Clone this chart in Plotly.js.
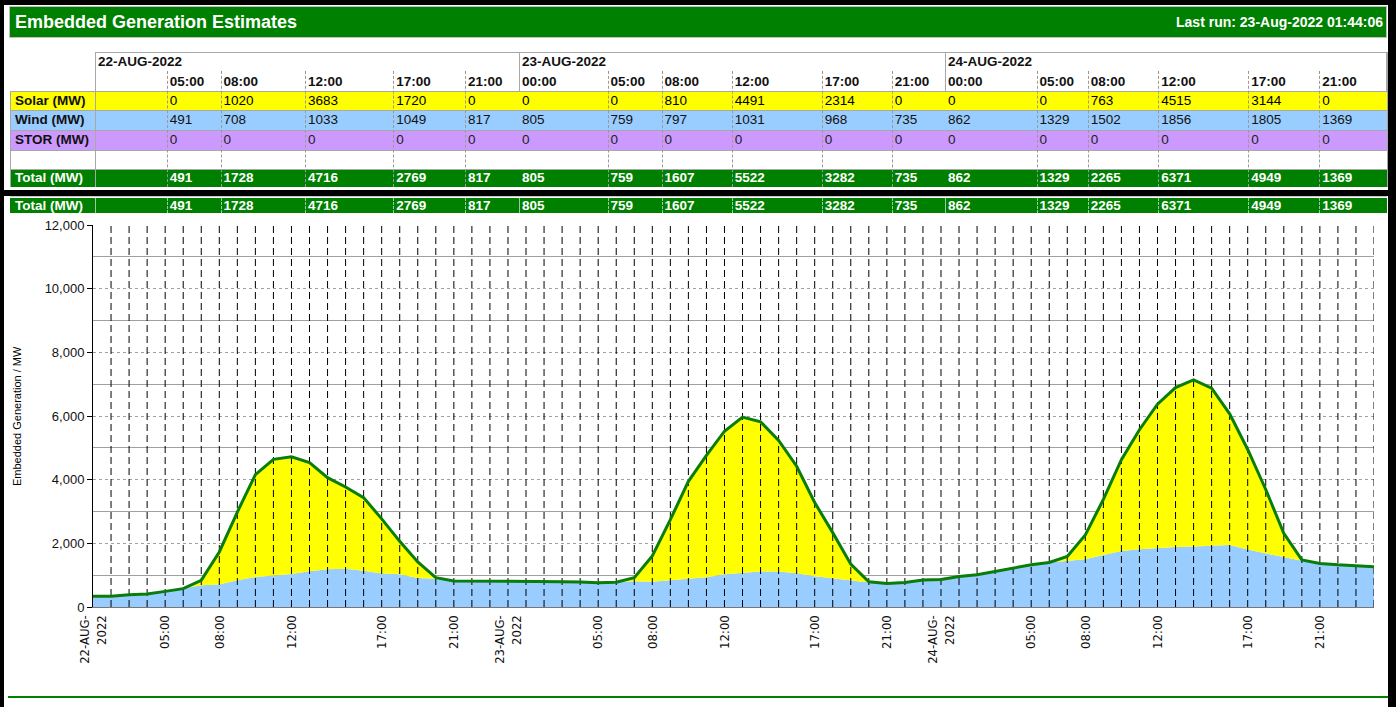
<!DOCTYPE html>
<html><head><meta charset="utf-8">
<script src="https://cdn.plot.ly/plotly-3.0.1.min.js"></script>
<style>
html,body{margin:0;padding:0;background:#000;width:1396px;height:707px;overflow:hidden;position:relative;font-family:"Liberation Sans",Arial,sans-serif;}
#chart{position:absolute;left:0;top:196px;width:1390px;height:501px;}
</style></head><body>
<div id="chart"></div>
<script>
// ---- data ----
const times = [
"22-AUG 01:00","22-AUG 02:00","22-AUG 03:00","22-AUG 04:00","22-AUG 05:00","22-AUG 06:00","22-AUG 07:00","22-AUG 08:00","22-AUG 09:00","22-AUG 10:00","22-AUG 11:00","22-AUG 12:00",
"22-AUG 13:00","22-AUG 14:00","22-AUG 15:00","22-AUG 16:00","22-AUG 17:00","22-AUG 18:00","22-AUG 19:00","22-AUG 20:00","22-AUG 21:00","22-AUG 22:00","22-AUG 23:00",
"23-AUG 00:00","23-AUG 01:00","23-AUG 02:00","23-AUG 03:00","23-AUG 04:00","23-AUG 05:00","23-AUG 06:00","23-AUG 07:00","23-AUG 08:00","23-AUG 09:00","23-AUG 10:00","23-AUG 11:00","23-AUG 12:00",
"23-AUG 13:00","23-AUG 14:00","23-AUG 15:00","23-AUG 16:00","23-AUG 17:00","23-AUG 18:00","23-AUG 19:00","23-AUG 20:00","23-AUG 21:00","23-AUG 22:00","23-AUG 23:00",
"24-AUG 00:00","24-AUG 01:00","24-AUG 02:00","24-AUG 03:00","24-AUG 04:00","24-AUG 05:00","24-AUG 06:00","24-AUG 07:00","24-AUG 08:00","24-AUG 09:00","24-AUG 10:00","24-AUG 11:00","24-AUG 12:00",
"24-AUG 13:00","24-AUG 14:00","24-AUG 15:00","24-AUG 16:00","24-AUG 17:00","24-AUG 18:00","24-AUG 19:00","24-AUG 20:00","24-AUG 21:00","24-AUG 22:00","24-AUG 23:00",
"25-AUG 00:00"];
const wind = [335,335,387,408,491,576,680,708,838,942,
995,1033,1120,1183,1204,1141,1049,1026,911,890,
817,817,817,805,805,800,795,785,759,780,
806,797,838,890,932,1031,1084,1116,1116,1064,
968,907,834,772,735,772,845,862,959,1011,
1116,1230,1329,1397,1449,1502,1637,1762,1814,1856,
1887,1898,1919,1950,1805,1679,1554,1449,1369,1324,
1293,1262];
const solar = [0,0,0,0,0,0,158,1020,2146,3215,
3644,3683,3414,2880,2566,2294,1720,1037,503,31,
0,0,0,0,0,0,0,0,0,0,
115,810,1905,3058,3832,4491,4881,4703,4119,3357,
2314,1429,511,20,0,0,0,0,0,0,
0,0,0,0,136,763,1741,2868,3754,4515,
5006,5234,4953,4119,3144,2012,761,32,0,0,
0,0];
const stor = [0,0,0,0,0,0,0,0,0,0,0,0,0,0,0,0,0,0,0,0,0,0,0,0,0,0,0,0,0,0,0,0,0,0,0,0,
0,0,0,0,0,0,0,0,0,0,0,0,0,0,0,0,0,0,0,0,0,0,0,0,0,0,0,0,0,0,0,0,0,0,0,0];
const tickIdx = [0,4,7,11,16,20,23,28,31,35,40,44,47,52,55,59,64,68];
const tickText = ["22-AUG-<br>2022","05:00","08:00","12:00","17:00","21:00","23-AUG-<br>2022","05:00","08:00","12:00","17:00","21:00","24-AUG-<br>2022","05:00","08:00","12:00","17:00","21:00"];
const dayLabels = ["22-AUG-2022","23-AUG-2022","24-AUG-2022"];
const tableIdx = [4,7,11,16,20,23,28,31,35,40,44,47,52,55,59,64,68];
const tableHours = ["05:00","08:00","12:00","17:00","21:00","00:00","05:00","08:00","12:00","17:00","21:00","00:00","05:00","08:00","12:00","17:00","21:00"];
const titleText = "Embedded Generation Estimates";
const lastRun = "Last run: 23-Aug-2022 01:44:06";
const yTitle = "Embedded Generation / MW";

// ---- layout helpers (positions only) ----
const B = document.body;
function el(css, text){const d=document.createElement('div');d.style.cssText='position:absolute;white-space:nowrap;box-sizing:border-box;'+css;if(text!==undefined)d.textContent=text;B.insertBefore(d, document.getElementById('chart'));return d;}
function elIn(p, css, text){const d=document.createElement('div');d.style.cssText='position:absolute;white-space:nowrap;box-sizing:border-box;'+css;if(text!==undefined)d.textContent=text;p.appendChild(d);return d;}

el('left:4px;top:5px;width:1384px;height:185px;background:#fff;');
el('left:4px;top:196px;width:1384px;height:511px;background:#fff;');
el('left:9px;top:6px;width:1378px;height:32px;background:#008000;border:1px solid #c0c0c0;');
el('left:15px;top:7px;height:30px;line-height:30px;font-size:18px;font-weight:bold;color:#fff;', titleText);
el('right:13px;top:7px;height:30px;line-height:30px;font-size:14px;font-weight:bold;color:#fff;', lastRun);

const dayEdges = [95,519,945];
const colEdges = [166.7,220.5,305,393.3,465,519,607.5,661.5,731.7,821.7,891.7,945,1036.5,1087.7,1158.3,1248.3,1319.3];
const tableRight = 1386.5;

// header box
el('left:95px;top:52px;width:'+(tableRight-95)+'px;height:135px;border:1px solid #a8a8a8;border-bottom:none;');
dayLabels.forEach((d,k)=>{
  el('left:'+(dayEdges[k]+3)+'px;top:53px;height:18px;line-height:18px;font-size:13.5px;font-weight:bold;color:#111;', d);
  if(k>0) el('left:'+dayEdges[k]+'px;top:52px;width:1px;height:135px;background:#a8a8a8;');
});
tableHours.forEach((h,k)=>{
  el('left:'+(colEdges[k]+3)+'px;top:72px;height:19px;line-height:19px;font-size:13.5px;font-weight:bold;color:#111;', h);
  if(colEdges[k]!==519 && colEdges[k]!==945) el('left:'+colEdges[k]+'px;top:71px;width:0;height:116px;border-left:1px dashed #999;z-index:3;');
});

const total = wind.map((w,i)=>w+solar[i]+stor[i]);
const rows = [
 {label:'Solar (MW)', top:91, h:19, bg:'#ffff00', color:'#000', vals:tableIdx.map(i=>solar[i])},
 {label:'Wind (MW)', top:110, h:20, bg:'#99ccff', color:'#111', vals:tableIdx.map(i=>wind[i])},
 {label:'STOR (MW)', top:130, h:20, bg:'#cc99ff', color:'#222', vals:tableIdx.map(i=>stor[i])},
 {label:'', top:150, h:19, bg:'#fff', color:'#000', vals:[]},
 {label:'Total (MW)', top:169, h:18, bg:'#008000', color:'#fff', bold:true, vals:tableIdx.map(i=>total[i])}
];
function drawRow(parent, r, top, h, offX){
  elIn(parent,'left:'+(10-offX)+'px;top:'+top+'px;width:'+(tableRight-10)+'px;height:'+h+'px;background:'+r.bg+';');
  elIn(parent,'left:'+(15-offX)+'px;top:'+top+'px;height:'+h+'px;line-height:'+h+'px;font-size:13.5px;font-weight:bold;color:'+(r.bold?'#fff':'#111')+';', r.label);
  r.vals.forEach((v,k)=>{
    elIn(parent,'left:'+(colEdges[k]+3-offX)+'px;top:'+top+'px;height:'+h+'px;line-height:'+h+'px;font-size:13.5px;'+(r.bold?'font-weight:bold;':'')+'color:'+r.color+';', String(v));
  });
}
rows.forEach(r=>{
  drawRow(B, r, r.top, r.h, 0);
  el('left:10px;top:'+r.top+'px;width:'+(tableRight-10)+'px;height:1px;background:#a8a8a8;z-index:2;');
});
el('left:10px;top:91px;width:1px;height:96px;background:#a8a8a8;z-index:2;');
el('left:95px;top:91px;width:1px;height:96px;background:#a8a8a8;z-index:2;');
el('left:'+tableRight+'px;top:52px;width:1px;height:135px;background:#a8a8a8;z-index:2;');
// repeated total row at top of chart frame
const band = el('left:10px;top:198px;width:'+(tableRight-10)+'px;height:15px;');
drawRow(band, rows[4], 0, 15, 10);
colEdges.forEach(c=>elIn(band,'left:'+(c-10)+'px;top:0;width:0;height:15px;border-left:1px '+((c===519||c===945)?'solid':'dashed')+' #9c9;'));
elIn(band,'left:85px;top:0;width:1px;height:15px;background:#9c9;');
el('left:10px;top:196px;width:'+(tableRight-10)+'px;height:1px;background:#c8c8c8;');
// bottom green rule
el('left:8px;top:696px;width:1380px;height:2px;background:#008000;');

// ---- chart ----
const gx=[], gy=[];
for(let i=1;i<times.length;i++){gx.push(times[i],times[i],null);gy.push(0,12000,null);}
const traces = [
 {x:times,y:wind,type:'scatter',mode:'lines',stackgroup:'eg',line:{width:0,color:'#99ccff'},fillcolor:'#99ccff',name:'Wind (MW)',hoverinfo:'skip'},
 {x:times,y:solar,type:'scatter',mode:'lines',stackgroup:'eg',line:{width:0,color:'#ffff00'},fillcolor:'#ffff00',name:'Solar (MW)',hoverinfo:'skip'},
 {x:times,y:stor,type:'scatter',mode:'lines',stackgroup:'eg',line:{width:0,color:'#cc99ff'},fillcolor:'#cc99ff',name:'STOR (MW)',hoverinfo:'skip'},
 {x:gx,y:gy,type:'scatter',mode:'lines',line:{color:'#000',width:1,dash:'7px,4px'},hoverinfo:'skip',showlegend:false},
 {x:times,y:total,type:'scatter',mode:'lines',line:{color:'#087d08',width:3},name:'Total (MW)',hoverinfo:'skip'}
];
const layout = {
 width:1390,height:501,
 margin:{l:93,r:16,t:29,b:90,pad:0},
 paper_bgcolor:'rgba(0,0,0,0)',plot_bgcolor:'#fff',
 showlegend:false,
 font:{family:'"Liberation Sans", Arial, sans-serif',size:13,color:'#111'},
 xaxis:{type:'category',categoryorder:'array',categoryarray:times,range:[0,times.length-1],
   tickmode:'array',tickvals:tickIdx.map(i=>times[i]),ticktext:tickText,tickangle:-90,
   tickfont:{family:'"Liberation Sans Narrow", "Arial Narrow", "DejaVu Sans Condensed", sans-serif',size:13,color:'#111'},
   showgrid:false,zeroline:false,showline:true,linecolor:'#777',linewidth:1,ticks:'outside',ticklen:2,tickcolor:'rgba(0,0,0,0)',fixedrange:true},
 yaxis:{range:[0,12000],tickmode:'linear',tick0:0,dtick:2000,tickformat:',d',
   tickfont:{size:13,color:'#111'},
   showgrid:true,gridcolor:'#a0a0a0',griddash:'dot',gridwidth:1,
   minor:{dtick:1000,showgrid:true,gridcolor:'#a0a0a0',griddash:'solid',gridwidth:1,ticks:''},
   showline:true,linecolor:'#000',linewidth:1,ticks:'outside',ticklen:5,tickcolor:'#000',zeroline:false,fixedrange:true},
 annotations:[{text:yTitle,xref:'paper',yref:'paper',x:(17-93)/1281,y:0.5,xanchor:'center',yanchor:'middle',textangle:-90,showarrow:false,font:{size:11,color:'#000'}}]
};
Plotly.newPlot('chart',traces,layout,{displayModeBar:false,staticPlot:true});
</script>
</body></html>
